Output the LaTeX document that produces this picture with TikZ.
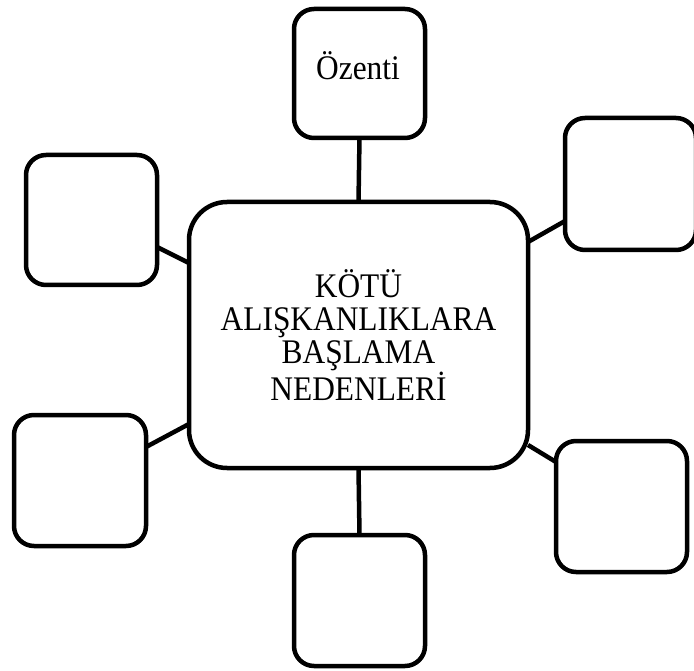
\documentclass[tikz,border=0pt]{standalone}
\usepackage{fontspec}
\setmainfont[FakeStretch=0.91]{Liberation Serif}
\begin{document}
\begin{tikzpicture}[x=1pt,y=-1pt,
  smallbox/.style={draw=black,line width=4.5pt,rounded corners=20pt,minimum width=131pt,minimum height=130pt,inner sep=0pt,outer sep=0pt},
  bigbox/.style={draw=black,line width=4.5pt,rounded corners=38pt,minimum width=339pt,minimum height=266pt,inner sep=0pt,outer sep=0pt,align=center,font=\fontsize{34.5}{33}\selectfont},
  link/.style={line width=4.5pt,black},
  lbl/.style={font=\fontsize{34.5}{33}\selectfont,inner sep=0pt}]
\useasboundingbox (0,0) rectangle (694,671);
\node[bigbox] (c) at (358.5,335) {KÖTÜ\\ALIŞKANLIKLARA\\BAŞLAMA\\NEDENLERİ};
\node[smallbox,minimum height=129pt] (top) at (359.5,73.5) {};
\node[lbl,anchor=base] (ozt) at (358,80) {Özenti};
\node[smallbox] (lt) at (91.5,220) {};
\node[smallbox,minimum height=132pt] (rt) at (630.5,184) {};
\node[smallbox,minimum width=132pt,minimum height=131pt] (lb) at (80,480.5) {};
\node[smallbox,minimum height=131pt] (rb) at (621.5,506.5) {};
\node[smallbox,minimum height=131pt] (bot) at (359.5,600.5) {};
\draw[link] (top.south) -- (c.north);
\draw[link] (c.south) -- (bot.north);
\draw[link] ([yshift=-27pt]lt.east) -- ([yshift=72pt]c.west);
\draw[link] ([yshift=93pt]c.east) -- ([yshift=-37pt]rt.west);
\draw[link] ([yshift=33.5pt]lb.east) -- ([yshift=-89pt]c.west);
\draw[link] ([yshift=-110pt]c.east) -- ([yshift=44.5pt]rb.west);
\end{tikzpicture}
\end{document}
